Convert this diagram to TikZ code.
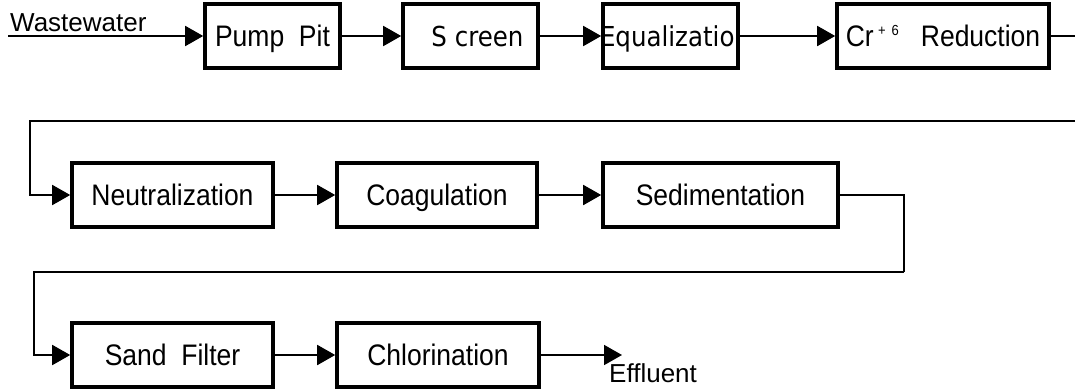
\documentclass[tikz,border=0pt]{standalone}
\usepackage{fontspec}
\usepackage{graphicx}
\setmainfont{Liberation Sans}
\newfontfamily\dvsans{DejaVu Sans}
\usetikzlibrary{arrows.meta}
% slightly tall lettering used inside the process boxes
\newcommand\talltext[1]{\scalebox{1}[1.12]{#1}}

\begin{document}
\begin{tikzpicture}[x=1pt,y=-1pt,
  unit box/.style={draw, line width=3.6pt, minimum height=64pt, inner sep=0pt,
                   text height=21.5pt, text depth=0pt,
                   font=\fontsize{26.5}{30}\selectfont},
  dv text/.style={font=\dvsans\fontsize{24.5}{28}\selectfont, inner sep=0pt,
                  text height=20pt, text depth=0pt},
  label text/.style={font=\fontsize{26}{30}\selectfont, inner sep=0pt},
  wire/.style={line width=1.8pt},
  flow/.style={wire, -{Triangle[length=18pt,width=20pt]}}]
\useasboundingbox (0,0) rectangle (1075,389);

% first row
\node[unit box, minimum width=135pt] (pump) at (272.5,36) {\talltext{Pump\ \ Pit}};
\node[unit box, minimum width=135pt,
      path picture={\node[dv text] at ([xshift=7pt]path picture bounding box.center)
                    {\talltext{S creen}};}] (screen) at (470.5,36) {};
\node[unit box, minimum width=135pt,
      path picture={\node[dv text] at ([xshift=4.5pt]path picture bounding box.center)
                    {\talltext{Equalization}};}] (equal) at (670.5,36) {};
\node[unit box, minimum width=212pt] (cr) at (943,36)
      {\talltext{Cr\,\raisebox{10pt}{\fontsize{13}{13}\selectfont +\,\ 6}\ \ \ Reduction}};

% second row
\node[unit box, minimum width=201pt] (neut) at (172.5,195) {\talltext{Neutralization}};
\node[unit box, minimum width=200pt] (coag) at (437,195) {\talltext{Coagulation}};
\node[unit box, minimum width=235pt] (sed) at (720.5,195) {\talltext{Sedimentation}};

% third row
\node[unit box, minimum width=201pt] (sand) at (172.5,355) {\talltext{Sand\ \ Filter}};
\node[unit box, minimum width=202pt] (chlor) at (438,355) {\talltext{Chlorination}};

% inflow and outflow labels
\node[label text, anchor=base west] (wwlabel) at (10,31) {Wastewater};
\node[label text, anchor=base west] (efflabel) at (609,382) {Effluent};

% free ends and bends of the connectors
\coordinate (src) at (8,36);
\coordinate (rowend) at (1075,36);
\coordinate (back1) at (1075,121);
\coordinate (drop1) at (30,195);
\coordinate (drop2) at (904,272);
\coordinate (drop3) at (34,355);
\coordinate (out) at (622,355);

% connectors
\draw[flow] (src) -- (pump.west);
\draw[flow] (pump.east) -- (screen.west);
\draw[flow] (screen.east) -- (equal.west);
\draw[flow] (equal.east) -- (cr.west);
\draw[wire] (cr.east) -- (rowend);
\draw[flow] (back1) -| (drop1) -- (neut.west);
\draw[flow] (neut.east) -- (coag.west);
\draw[flow] (coag.east) -- (sed.west);
\draw[wire] (sed.east) -| (drop2);
\draw[flow] (drop2) -| (drop3) -- (sand.west);
\draw[flow] (sand.east) -- (chlor.west);
\draw[flow] (chlor.east) -- (out);
\end{tikzpicture}
\end{document}
